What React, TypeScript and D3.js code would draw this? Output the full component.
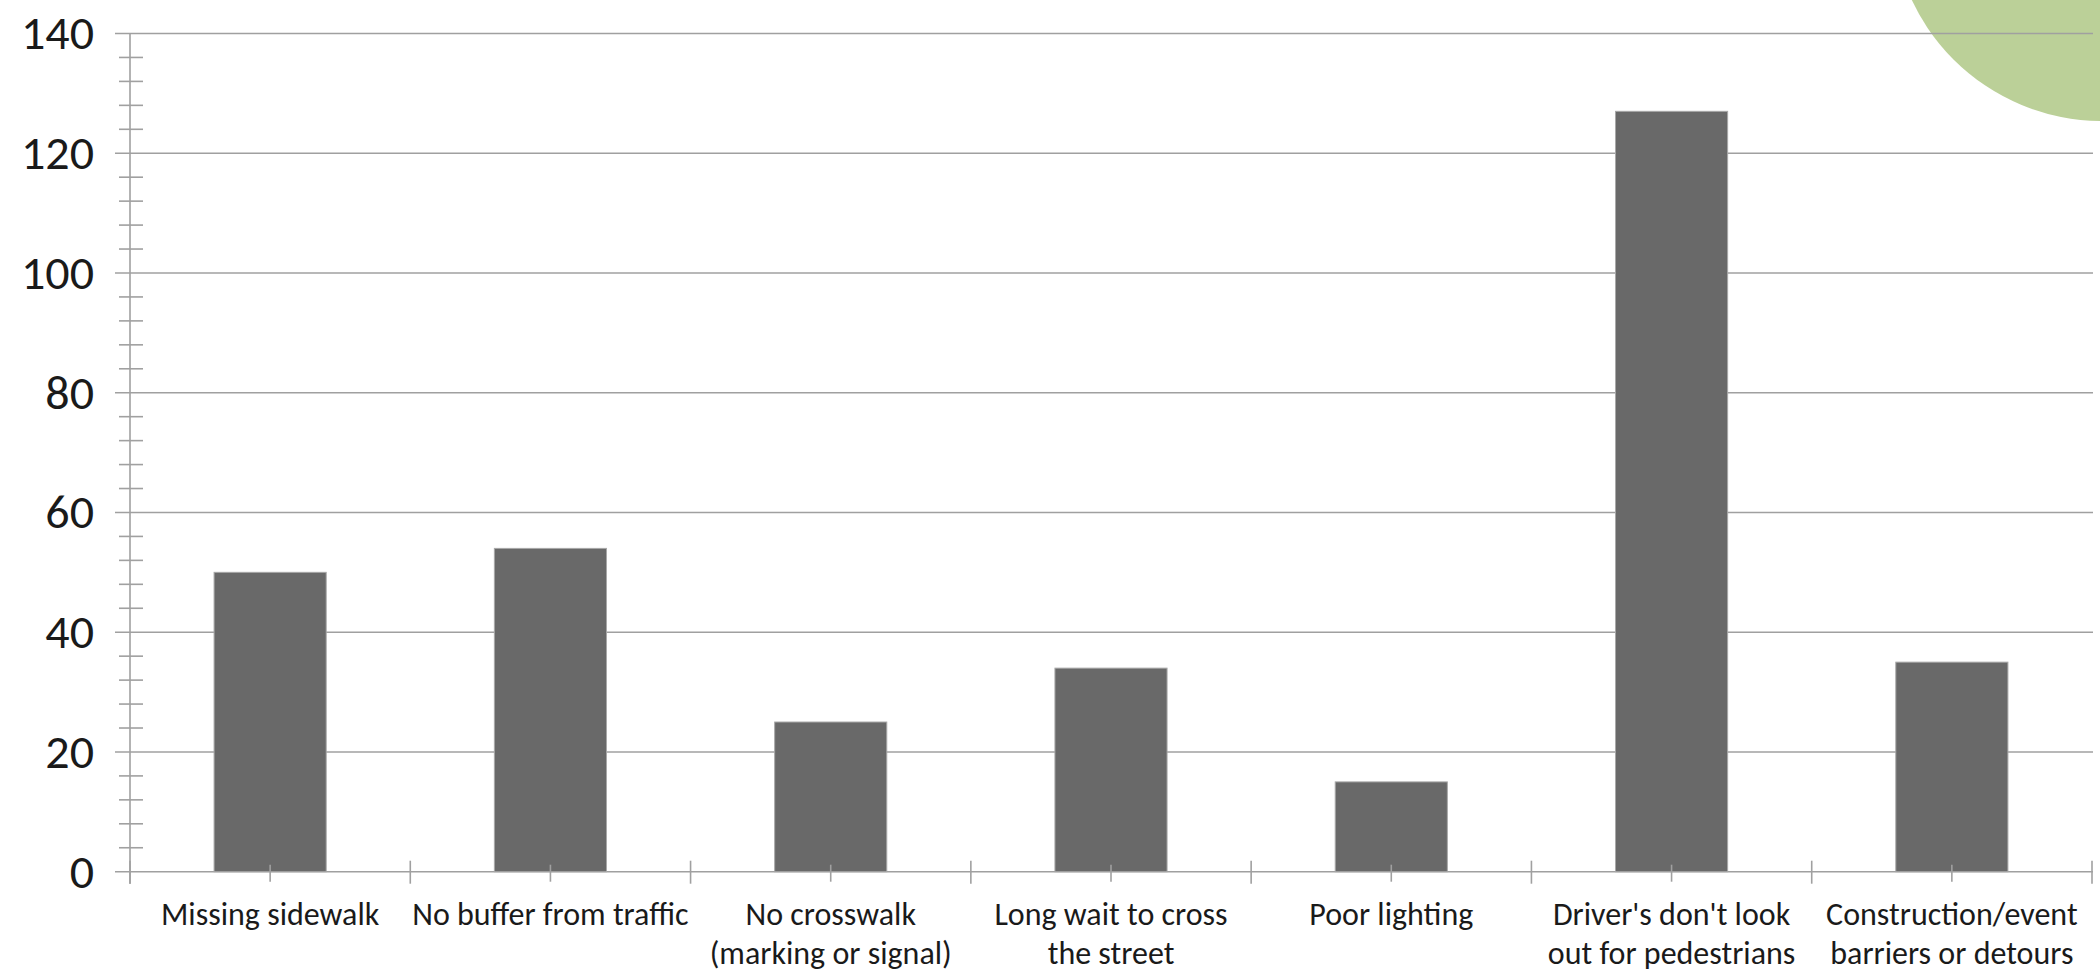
import { useEffect, useRef } from 'react';
import * as d3 from 'd3';

// category labels, split into the lines they wrap to
const categories = [
  'Missing sidewalk',
  'No buffer from traffic',
  'No crosswalk',
  'Long wait to cross',
  'Poor lighting',
  "Driver's don't look",
  'Construction/event',
];
const secondLines = ['', '', '(marking or signal)', 'the street', '', 'out for pedestrians', 'barriers or detours'];
const values = [50, 54, 25, 34, 15, 127, 35];
const yTicks = [0, 20, 40, 60, 80, 100, 120, 140];

const FONT = "Carlito, Calibri, 'Open Sans', sans-serif";

const App = () => {
  const ref = useRef<SVGSVGElement | null>(null);

  useEffect(() => {
    if (!ref.current) return;
    const width = 2100;
    const height = 980;
    const svg = d3.select(ref.current);
    svg.selectAll('*').remove();
    svg.attr('width', width).attr('height', height);

    const left = 130;
    const right = 2092;
    const top = 33.5;
    const bottom = 871.7;

    const x = d3.scaleBand<string>()
      .domain(categories)
      .range([left, right])
      .paddingInner(0.6)
      .paddingOuter(0.3);

    const y = d3.scaleLinear().domain([0, 140]).range([bottom, top]);

    const grid = '#a0a0a0';

    // decorative circle top right
    svg.append('circle')
      .attr('cx', 2102)
      .attr('cy', -89)
      .attr('r', 210)
      .attr('fill', '#bbd098');

    // gridlines
    svg.append('g')
      .selectAll('line')
      .data(yTicks)
      .enter()
      .append('line')
      .attr('x1', 115)
      .attr('x2', 2093)
      .attr('y1', d => y(d))
      .attr('y2', d => y(d))
      .attr('stroke', grid)
      .attr('stroke-width', 1.6);

    // minor ticks on the y axis
    const minor = d3.range(0, 141, 4).filter(d => d % 20 !== 0);
    svg.append('g')
      .selectAll('line')
      .data(minor)
      .enter()
      .append('line')
      .attr('x1', 119)
      .attr('x2', 143)
      .attr('y1', d => y(d))
      .attr('y2', d => y(d))
      .attr('stroke', grid)
      .attr('stroke-width', 1.6);

    // y axis line
    svg.append('line')
      .attr('x1', left)
      .attr('x2', left)
      .attr('y1', top)
      .attr('y2', bottom + 12)
      .attr('stroke', grid)
      .attr('stroke-width', 1.6);

    // y labels
    svg.append('g')
      .selectAll('text')
      .data(yTicks)
      .enter()
      .append('text')
      .attr('x', 94)
      .attr('y', d => y(d))
      .attr('dy', '0.33em')
      .attr('text-anchor', 'end')
      .style('font-family', FONT)
      .style('font-size', '48px')
      .attr('fill', '#1a1a1a')
      .text(d => d);

    // bars
    svg.append('g')
      .selectAll('rect')
      .data(values)
      .enter()
      .append('rect')
      .attr('x', (_, i) => x(categories[i]) || 0)
      .attr('y', d => y(d))
      .attr('width', x.bandwidth())
      .attr('height', d => bottom - y(d))
      .attr('fill', '#696969')
      .attr('stroke', '#a8a8a8')
      .attr('stroke-width', 1);

    // x tick marks: boundaries and centers
    const step = x.step();
    const bounds = d3.range(categories.length + 1).map(i => left + i * step);
    svg.append('g')
      .selectAll('line')
      .data(bounds)
      .enter()
      .append('line')
      .attr('x1', d => d)
      .attr('x2', d => d)
      .attr('y1', bottom - 11)
      .attr('y2', bottom + 12)
      .attr('stroke', grid)
      .attr('stroke-width', 1.6);
    svg.append('g')
      .selectAll('line')
      .data(categories)
      .enter()
      .append('line')
      .attr('x1', d => (x(d) || 0) + x.bandwidth() / 2)
      .attr('x2', d => (x(d) || 0) + x.bandwidth() / 2)
      .attr('y1', bottom - 7)
      .attr('y2', bottom + 10)
      .attr('stroke', grid)
      .attr('stroke-width', 1.6);

    // x labels
    const labels = svg.append('g')
      .selectAll('text')
      .data(categories)
      .enter()
      .append('text')
      .attr('text-anchor', 'middle')
      .style('font-family', FONT)
      .style('font-size', '32px')
      .attr('fill', '#1a1a1a');
    labels.append('tspan')
      .attr('x', d => (x(d) || 0) + x.bandwidth() / 2)
      .attr('y', 925)
      .text(d => d);
    labels.append('tspan')
      .attr('x', d => (x(d) || 0) + x.bandwidth() / 2)
      .attr('y', 964)
      .text((_, i) => secondLines[i]);
  }, []);

  return (
    <svg ref={ref} style={{ position: 'absolute', left: 0, top: 0, background: '#fff' }} />
  );
};

export default App;
